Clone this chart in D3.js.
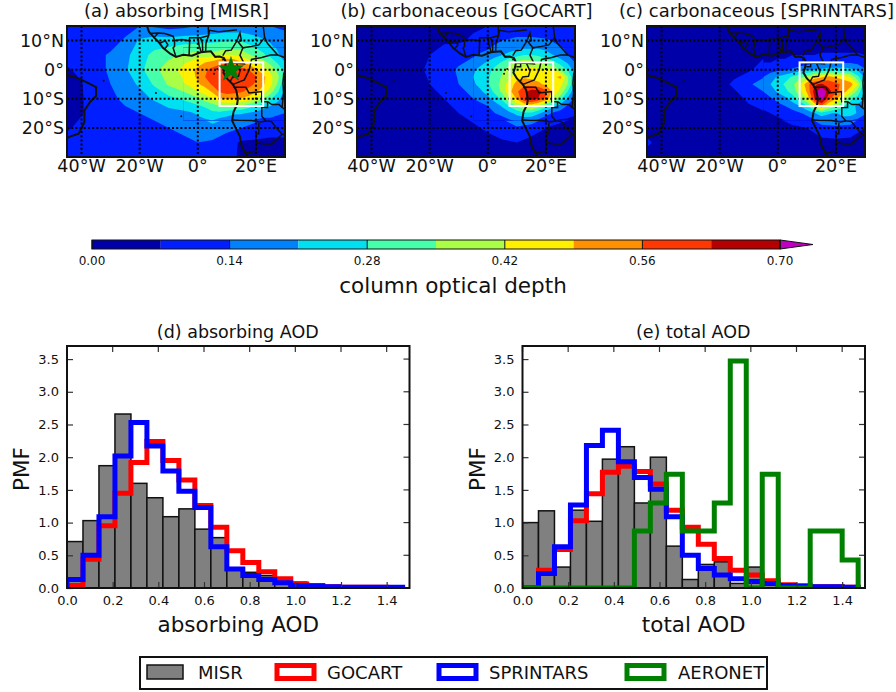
<!DOCTYPE html>
<html>
<head>
<meta charset="utf-8">
<script src="https://cdn.jsdelivr.net/npm/d3@7"></script>
<style>
body { margin: 0; background: #fff; }
text { font-family: "DejaVu Sans", sans-serif; fill: #111; }
</style>
</head>
<body>
<script>
// contour levels and colours
var levels = [0, 0.07, 0.14, 0.21, 0.28, 0.35, 0.42, 0.49, 0.56, 0.63, 0.70];
var levelColors = ["#0000a8", "#001eff", "#0082ff", "#00e0f0", "#46ffaa", "#aaff46", "#fff000", "#ff9100", "#ff3700", "#b40000", "#c000c0"];
var cbarTicks = [0, 0.14, 0.28, 0.42, 0.56, 0.70];

// AOD on a 5 degree grid, lon -45..30, lat 15..-30
var gridLon = d3.range(-45, 31, 5);
var gridLat = d3.range(15, -31, -5);

var aodMisr = [
  [.10,.11,.09,.065,.11,.14,.13,.11,.12,.14,.15,.16,.16,.15,.14,.13],
  [.11,.12,.11,.11,.15,.22,.24,.24,.25,.25,.26,.27,.27,.24,.20,.16],
  [.10,.11,.12,.15,.19,.25,.30,.33,.36,.39,.40,.43,.40,.33,.26,.18],
  [.06,.09,.12,.15,.20,.26,.33,.39,.44,.51,.58,.60,.58,.50,.40,.25],
  [.06,.065,.13,.14,.18,.22,.29,.36,.41,.48,.57,.61,.59,.55,.44,.21],
  [.06,.065,.10,.13,.15,.18,.22,.26,.29,.34,.42,.50,.48,.41,.29,.17],
  [.05,.065,.10,.12,.13,.14,.15,.18,.19,.22,.26,.24,.22,.19,.17,.14],
  [.06,.09,.10,.11,.12,.13,.13,.14,.15,.17,.19,.16,.14,.11,.09,.09],
  [.10,.10,.10,.10,.10,.11,.11,.12,.13,.14,.13,.10,.06,.06,.06,.06],
  [.10,.10,.10,.10,.10,.10,.10,.10,.10,.13,.10,.09,.06,.06,.06,.06]
];
var aodGocart = [
  [.05,.05,.05,.05,.05,.05,.05,.05,.06,.07,.08,.08,.08,.08,.08,.07],
  [.05,.05,.05,.05,.05,.06,.06,.06,.08,.10,.14,.16,.16,.15,.12,.08],
  [.05,.05,.05,.05,.05,.07,.10,.11,.13,.17,.21,.26,.28,.24,.17,.10],
  [.04,.04,.05,.05,.055,.08,.11,.15,.20,.26,.34,.41,.44,.43,.34,.18],
  [.04,.04,.05,.05,.05,.07,.10,.14,.20,.27,.38,.51,.53,.48,.44,.20],
  [.04,.04,.04,.05,.05,.06,.07,.10,.14,.19,.30,.50,.67,.54,.30,.12],
  [.04,.04,.04,.04,.05,.05,.06,.07,.09,.12,.16,.23,.26,.17,.11,.08],
  [.04,.04,.04,.04,.04,.04,.05,.05,.06,.08,.11,.13,.10,.07,.05,.05],
  [.04,.04,.04,.04,.04,.04,.04,.04,.04,.05,.06,.07,.05,.04,.04,.04],
  [.04,.04,.04,.04,.04,.04,.04,.04,.04,.04,.04,.04,.04,.04,.04,.04]
];
var aodSprintars = [
  [.04,.04,.04,.04,.04,.04,.04,.04,.04,.04,.04,.04,.04,.04,.04,.04],
  [.04,.04,.04,.04,.04,.04,.04,.04,.04,.04,.05,.05,.05,.05,.05,.04],
  [.04,.04,.04,.04,.04,.04,.04,.04,.06,.06,.07,.07,.08,.08,.08,.07],
  [.04,.04,.04,.04,.04,.04,.05,.06,.10,.12,.15,.20,.22,.24,.23,.15],
  [.04,.04,.04,.04,.04,.05,.08,.13,.17,.25,.33,.53,.64,.58,.52,.22],
  [.04,.04,.04,.04,.04,.04,.05,.08,.11,.16,.24,.42,.75,.50,.30,.20],
  [.04,.04,.04,.04,.04,.04,.04,.05,.06,.08,.11,.16,.25,.20,.25,.15],
  [.05,.04,.04,.04,.04,.04,.04,.04,.04,.05,.06,.07,.11,.13,.11,.07],
  [.08,.05,.04,.04,.04,.04,.04,.04,.04,.04,.04,.05,.05,.05,.05,.05],
  [.05,.04,.04,.04,.04,.04,.04,.04,.04,.04,.04,.04,.04,.04,.04,.04]
];

// finer 2.5 degree readings over the plume, lon -5..30, lat 7.5..-17.5
var fineLon = d3.range(-5, 31, 2.5);
var fineLat = d3.range(7.5, -18, -2.5);

var fineMisr = [
  [.30,.30,.31,.30,.30,.31,.33,.33,.33,.30,.28,.26,.24,.20,.17],
  [.36,.38,.39,.39,.40,.42,.43,.42,.40,.36,.33,.29,.26,.22,.18],
  [.41,.43,.46,.49,.51,.54,.55,.54,.50,.46,.42,.38,.33,.27,.21],
  [.44,.47,.51,.55,.58,.60,.60,.60,.58,.56,.50,.45,.40,.33,.25],
  [.44,.47,.50,.56,.59,.61,.61,.61,.60,.59,.57,.51,.44,.37,.25],
  [.41,.44,.48,.52,.57,.60,.61,.60,.59,.58,.55,.50,.44,.34,.21],
  [.35,.38,.42,.45,.50,.57,.59,.58,.57,.54,.50,.46,.38,.29,.19],
  [.29,.31,.34,.38,.42,.48,.50,.50,.48,.46,.41,.35,.29,.23,.17],
  [.24,.25,.27,.29,.32,.35,.35,.35,.34,.31,.27,.24,.21,.18,.15],
  [.19,.20,.22,.24,.26,.26,.24,.22,.22,.20,.19,.17,.17,.15,.14],
  [.16,.17,.19,.20,.21,.18,.17,.16,.15,.14,.13,.12,.12,.11,.11]
];
var fineGocart = [
  [.11,.12,.13,.15,.16,.17,.19,.20,.20,.20,.19,.17,.15,.12,.09],
  [.13,.15,.17,.19,.21,.24,.26,.28,.28,.27,.24,.21,.17,.14,.10],
  [.16,.19,.22,.25,.29,.33,.37,.39,.38,.36,.32,.30,.25,.20,.14],
  [.20,.23,.26,.30,.34,.38,.41,.44,.44,.43,.43,.42,.34,.27,.18],
  [.21,.24,.27,.31,.36,.41,.47,.48,.47,.47,.47,.47,.51,.36,.20],
  [.20,.23,.27,.32,.38,.46,.51,.54,.53,.50,.48,.46,.44,.35,.20],
  [.17,.20,.24,.30,.37,.47,.55,.61,.66,.66,.58,.47,.40,.28,.15],
  [.14,.16,.19,.24,.30,.41,.50,.62,.67,.62,.54,.40,.30,.20,.12],
  [.11,.12,.14,.17,.22,.29,.36,.42,.44,.38,.30,.23,.18,.13,.09],
  [.09,.10,.12,.14,.16,.19,.23,.26,.26,.22,.17,.13,.11,.09,.08],
  [.07,.07,.08,.10,.11,.13,.15,.16,.15,.12,.09,.07,.06,.06,.05]
];
var fineSprintars = [
  [.05,.05,.05,.05,.05,.05,.05,.05,.05,.05,.05,.05,.05,.05,.05],
  [.06,.06,.06,.06,.07,.07,.07,.07,.08,.08,.08,.08,.08,.08,.07],
  [.07,.07,.08,.08,.09,.10,.11,.12,.13,.13,.13,.13,.13,.12,.09],
  [.10,.11,.12,.13,.15,.17,.20,.21,.22,.24,.24,.24,.23,.20,.15],
  [.14,.18,.22,.25,.29,.33,.37,.45,.48,.52,.48,.46,.42,.30,.20],
  [.17,.21,.25,.29,.33,.41,.53,.62,.64,.60,.58,.54,.52,.42,.22],
  [.14,.18,.22,.26,.31,.39,.50,.65,.78,.66,.58,.52,.44,.32,.20],
  [.11,.13,.16,.19,.24,.32,.42,.62,.75,.58,.50,.40,.30,.25,.20],
  [.08,.10,.12,.14,.17,.21,.27,.40,.55,.42,.36,.29,.23,.20,.18],
  [.06,.07,.08,.09,.11,.13,.16,.20,.25,.22,.20,.25,.25,.20,.15],
  [.05,.05,.06,.07,.08,.09,.10,.13,.15,.15,.16,.16,.14,.12,.09]
];

// coast and border lines as [lon, lat]
var coastLines = [
  [[-17.5,15],[-16.8,13],[-15,11],[-13.5,9.5],[-12,7.5],[-9.5,5.5],[-7.5,4.4],[-5,5.1],[-2,4.8],[1,6],[4.5,6.3],[6,4.4],[7.5,4.5],[9,4],[9.7,2.5],[9.3,0.5],[8.8,-1],[10,-3],[12,-5],[13.2,-7],[13.8,-10],[13.5,-12],[12.3,-14.5],[11.8,-17.5],[13,-20],[14.5,-23],[15,-26],[16.4,-28.6],[17,-30]],
  [[-46,-1.5],[-41,-3],[-37,-5],[-35,-6],[-35,-9],[-37,-11],[-39,-14],[-39,-18],[-41,-22],[-44,-23],[-46,-24]]
];
var borderLines = [
  [[-16.7,12.4],[-13.7,12.6],[-11.4,12.4],[-8.5,11.5],[-8,10],[-5.5,10.4],[-3,9.9],[-2.8,11],[0,11],[1,11],[3.7,11.7],[3.6,15]],
  [[-15,11],[-13.7,12.6]],
  [[-13.2,9],[-11.2,10],[-10.3,8.5],[-11.5,7]],
  [[-7.5,4.4],[-8.5,7.5],[-8,8],[-8,10]],
  [[-3,5],[-2.8,9.9]],
  [[1.2,6.1],[0.5,8],[0,11]],
  [[1.7,6.2],[1.6,9],[0.9,11]],
  [[2.7,6.4],[2.8,9],[3.7,11.7],[4,13.5],[7,13],[10,13.3],[13.5,13.7]],
  [[8.6,4.8],[9.6,6.5],[11.5,6.7],[13.5,10],[14.5,12.7],[15,10],[13.9,9.5],[15.5,7.5],[18.5,8],[21,8.5],[23,11],[22.5,15]],
  [[15.5,7.5],[14.5,5],[16,2],[13.3,2.2],[9.8,2.3]],
  [[9.8,1],[11.3,1],[11.3,2.2]],
  [[11.2,-3.9],[12,-2.5],[14,-2.3],[14.5,-0.5],[13.3,2.2]],
  [[12.2,-5],[13,-4.7],[16,-3.5],[17.7,0],[18.5,3.5],[22,4.2],[25,5],[27.5,5],[31,3.8]],
  [[12.2,-6],[16.5,-6],[17.6,-8],[22,-7.5],[22,-11],[24,-11],[25.5,-12],[28,-12],[29,-13],[30.5,-14]],
  [[24,-11],[24,-13],[22,-13],[22,-16],[23.4,-17.6],[25.3,-17.8],[27,-20],[29,-22.2],[31,-22.4]],
  [[11.8,-17.3],[14,-17.4],[18.5,-17.5],[21.5,-18],[23.4,-17.6]],
  [[21,-18.3],[21,-22],[20,-22],[20,-28],[16.5,-28.6]],
  [[20,-25],[23,-25.5],[25.5,-25.5],[29,-22.2]],
  [[23,11],[24,9],[27.5,5]],
  [[29.6,-1],[29.3,-4.5],[29.5,-8],[29,-13]]
];
var islands = [[-5.7,-16],[-14.4,-8],[-29,-20.5],[-32.4,-3.8],[6.7,0.2],[8.7,3.5],[5.6,-1.4]];
var meridians = [-40, -20, 0, 20];
var parallels = [10, 0, -10, -20];
var lonLabels = ["40°W", "20°W", "0°", "20°E"];
var latLabels = ["10°N", "0°", "10°S", "20°S"];
var boxLon = [7.5, 22.5];
var boxLat = [2.5, -12.5];
var starLon = 11.4, starLat = 0;

// histograms, bin width 0.07
var binEdges = d3.range(0, 22).map(d => d * 0.07);
var absMisr = [.71,1.03,1.87,2.66,1.60,1.38,1.09,1.21,.90,.77,.31,.24,.19,.10,.09,.03,.02,.01,.01,0,0];
var absGocart = [.04,.44,.95,1.45,1.92,2.24,1.95,1.65,1.26,.93,.57,.39,.25,.14,.06,.04,.02,.01,.01,.01,0];
var absSprintars = [.13,.50,1.09,2.02,2.53,2.17,1.79,1.48,1.23,.63,.29,.19,.13,.08,.04,.03,.02,.01,.01,.01,.01];
var totMisr = [1.0,1.18,.32,1.19,1.02,1.97,2.16,1.30,2.0,.64,.13,.36,.40,.07,.32,.05,.03,.02,.01,.03,.01];
var totGocart = [0,.27,.59,1.03,1.44,1.77,1.86,1.78,1.59,1.19,.93,.67,.45,.27,.20,.11,.05,.03,.02,.02,.01];
var totSprintars = [0,.22,.63,1.27,2.18,2.41,1.93,1.69,1.51,1.09,.50,.30,.20,.14,.10,.07,.04,.03,.02,.02,.01];
var totAeronet = [0,0,0,0,0,0,0,.87,1.30,1.74,.87,.87,1.30,3.47,0,1.74,0,0,.87,.87,.43];
var xTicks = [0, .2, .4, .6, .8, 1.0, 1.2, 1.4];
var yTicks = [0, .5, 1, 1.5, 2, 2.5, 3, 3.5];

var legendNames = ["MISR", "GOCART", "SPRINTARS", "AERONET"];
var red = "#ff0000", blue = "#0000ff", green = "#008000", gray = "#808080", ink = "#111";

var svg = d3.select("body").append("svg")
  .attr("width", 896).attr("height", 692).style("display", "block");

var clipCount = 0;
function addClip(x, y, w, h) {
  var id = "clip" + (clipCount++);
  svg.append("clipPath").attr("id", id).append("rect")
    .attr("x", x).attr("y", y).attr("width", w).attr("height", h);
  return "url(#" + id + ")";
}

// filled bands for one grid; d3.contours has cell centres at i+0.5
function drawBands(parent, grid, lons, lats, xs, ys) {
  var step = lons[1] - lons[0];
  var toScreen = d3.geoTransform({
    point: function(px, py) {
      this.stream.point(xs(lons[0] + (px - 0.5) * step), ys(lats[0] - (py - 0.5) * step));
    }
  });
  var contours = d3.contours().size([lons.length, lats.length]).smooth(true)
    .thresholds(levels)(grid.flat());
  parent.selectAll("path").data(contours).join("path")
    .attr("d", d3.geoPath(toScreen))
    .attr("fill", (d, i) => levelColors[i]);
}

function drawMap(left, title, grid, fine, withStar) {
  var w = 218, top = 26, h = 131;
  var xs = d3.scaleLinear().domain([-45, 30]).range([left, left + w]);
  var ys = d3.scaleLinear().domain([15, -30]).range([top, top + h]);
  var g = svg.append("g");
  var inner = g.append("g").attr("clip-path", addClip(left, top, w, h));

  drawBands(inner.append("g"), grid, gridLon, gridLat, xs, ys);
  var fx = xs(fineLon[0]), fy = ys(fineLat[0]);
  var fineLayer = inner.append("g")
    .attr("clip-path", addClip(fx, fy, left + w - fx, ys(fineLat[fineLat.length - 1]) - fy));
  drawBands(fineLayer, fine, fineLon, fineLat, xs, ys);

  var line = d3.line().x(d => xs(d[0])).y(d => ys(d[1]));
  inner.selectAll("path.border").data(borderLines).join("path")
    .attr("class", "border").attr("d", line).attr("fill", "none")
    .attr("stroke", ink).attr("stroke-width", 1.5);
  inner.selectAll("path.coast").data(coastLines).join("path")
    .attr("class", "coast").attr("d", line).attr("fill", "none")
    .attr("stroke", ink).attr("stroke-width", 2);
  inner.selectAll("circle").data(islands).join("circle")
    .attr("cx", d => xs(d[0])).attr("cy", d => ys(d[1])).attr("r", 1).attr("fill", ink);

  // dotted graticule
  inner.selectAll("line.mer").data(meridians).join("line").attr("class", "mer")
    .attr("x1", d => xs(d)).attr("x2", d => xs(d)).attr("y1", top).attr("y2", top + h)
    .attr("stroke", "#000").attr("stroke-width", 2).attr("stroke-dasharray", "2,2.2");
  inner.selectAll("line.par").data(parallels).join("line").attr("class", "par")
    .attr("y1", d => ys(d)).attr("y2", d => ys(d)).attr("x1", left).attr("x2", left + w)
    .attr("stroke", "#000").attr("stroke-width", 2).attr("stroke-dasharray", "2,2.2");

  inner.append("rect")
    .attr("x", xs(boxLon[0])).attr("y", ys(boxLat[0]))
    .attr("width", xs(boxLon[1]) - xs(boxLon[0])).attr("height", ys(boxLat[1]) - ys(boxLat[0]))
    .attr("fill", "none").attr("stroke", "#fff").attr("stroke-width", 2);

  if (withStar) {
    inner.append("path")
      .attr("transform", "translate(" + xs(starLon) + "," + ys(starLat) + ")")
      .attr("d", d3.symbol().type(d3.symbolStar).size(190)())
      .attr("fill", green).attr("stroke", "#063").attr("stroke-width", 0.5);
  }

  g.append("rect").attr("x", left).attr("y", top).attr("width", w).attr("height", h)
    .attr("fill", "none").attr("stroke", ink).attr("stroke-width", 2);

  g.selectAll("text.lon").data(meridians).join("text").attr("class", "lon")
    .attr("x", d => xs(d)).attr("y", 172).attr("text-anchor", "middle")
    .attr("font-size", 17.5).text((d, i) => lonLabels[i]);
  g.selectAll("text.lat").data(parallels).join("text").attr("class", "lat")
    .attr("x", left - 3).attr("y", d => ys(d) + 6.5).attr("text-anchor", "end")
    .attr("font-size", 17.5).text((d, i) => latLabels[i]);
  g.append("text").attr("x", left + w / 2 + 0.5).attr("y", 17).attr("text-anchor", "middle")
    .attr("font-size", 18).text(title);
}

drawMap(67, "(a) absorbing [MISR]", aodMisr, fineMisr, true);
drawMap(357, "(b) carbonaceous [GOCART]", aodGocart, fineGocart, false);
drawMap(647, "(c) carbonaceous [SPRINTARS]", aodSprintars, fineSprintars, false);

// colour bar
var cx = d3.scaleLinear().domain([0, 0.7]).range([92, 780]);
var cbar = svg.append("g");
cbar.selectAll("rect").data(levels.slice(0, -1)).join("rect")
  .attr("x", d => cx(d)).attr("y", 240)
  .attr("width", (d, i) => cx(levels[i + 1]) - cx(d)).attr("height", 9)
  .attr("fill", (d, i) => levelColors[i]);
var tipX = cx(0.7) + 33;
cbar.append("path")
  .attr("d", d3.line()([[cx(0.7), 240], [tipX, 244.5], [cx(0.7), 249]]) + "Z")
  .attr("fill", levelColors[10]).attr("stroke", ink).attr("stroke-width", 1);
cbar.append("rect").attr("x", cx(0)).attr("y", 240).attr("width", cx(0.7) - cx(0)).attr("height", 9)
  .attr("fill", "none").attr("stroke", ink).attr("stroke-width", 1);
cbar.selectAll("line").data(cbarTicks).join("line")
  .attr("x1", d => cx(d)).attr("x2", d => cx(d)).attr("y1", 240).attr("y2", 249)
  .attr("stroke", ink).attr("stroke-width", 1);
cbar.selectAll("text.tick").data(cbarTicks).join("text").attr("class", "tick")
  .attr("x", d => cx(d)).attr("y", 265).attr("text-anchor", "middle")
  .attr("font-size", 12).text(d => d.toFixed(2));
cbar.append("text").attr("x", 453).attr("y", 293).attr("text-anchor", "middle")
  .attr("font-size", 21.5).text("column optical depth");

function stepPoints(vals) {
  var pts = [[binEdges[0], 0]];
  vals.forEach((v, i) => { pts.push([binEdges[i], v]); pts.push([binEdges[i + 1], v]); });
  pts.push([binEdges[vals.length], 0]);
  return pts;
}

function drawHist(left, title, xlabel, bars, steps) {
  var w = 342.5, top = 346, h = 242;
  var xs = d3.scaleLinear().domain([0, 1.5]).range([left, left + w]);
  var ys = d3.scaleLinear().domain([0, 3.7]).range([top + h, top]);
  var g = svg.append("g");
  var inner = g.append("g").attr("clip-path", addClip(left, top, w, h));

  inner.selectAll("rect").data(bars).join("rect")
    .attr("x", (d, i) => xs(binEdges[i])).attr("y", d => ys(d))
    .attr("width", (d, i) => xs(binEdges[i + 1]) - xs(binEdges[i]))
    .attr("height", d => ys(0) - ys(d))
    .attr("fill", gray).attr("stroke", ink).attr("stroke-width", 1.5);

  var line = d3.line().x(d => xs(d[0])).y(d => ys(d[1]));
  steps.forEach(function(s) {
    inner.append("path").attr("d", line(stepPoints(s.values))).attr("fill", "none")
      .attr("stroke", s.color).attr("stroke-width", 5).attr("stroke-linejoin", "miter");
  });

  var xAxis = d3.axisBottom(xs).tickValues(xTicks).tickFormat(d3.format(".1f")).tickSize(-6).tickPadding(7.5);
  var yAxis = d3.axisLeft(ys).tickValues(yTicks).tickFormat(d3.format(".1f")).tickSize(-6).tickPadding(8);
  var ax = g.append("g").attr("transform", "translate(0," + (top + h) + ")").call(xAxis);
  var ay = g.append("g").attr("transform", "translate(" + left + ",0)").call(yAxis);
  [ax, ay].forEach(function(a) {
    a.select(".domain").remove();
    a.selectAll("text").attr("font-size", 13).attr("font-family", "DejaVu Sans").attr("fill", ink);
    a.selectAll("line").attr("stroke", "#333").attr("stroke-width", 1.2);
  });
  // top and right ticks
  g.selectAll("line.tt").data(xTicks).join("line").attr("class", "tt")
    .attr("x1", d => xs(d)).attr("x2", d => xs(d)).attr("y1", top).attr("y2", top + 6)
    .attr("stroke", "#333").attr("stroke-width", 1.2);
  g.selectAll("line.rt").data(yTicks).join("line").attr("class", "rt")
    .attr("y1", d => ys(d)).attr("y2", d => ys(d)).attr("x1", left + w - 6).attr("x2", left + w)
    .attr("stroke", "#333").attr("stroke-width", 1.2);

  g.append("rect").attr("x", left).attr("y", top).attr("width", w).attr("height", h)
    .attr("fill", "none").attr("stroke", ink).attr("stroke-width", 2);

  g.append("text").attr("x", left + w / 2 - 0.5).attr("y", 338).attr("text-anchor", "middle")
    .attr("font-size", 17.5).text(title);
  g.append("text").attr("x", left + w / 2).attr("y", 632).attr("text-anchor", "middle")
    .attr("font-size", 21.5).text(xlabel);
  g.append("text").attr("transform", "translate(" + (left - 38) + "," + (top + h / 2 + 2) + ") rotate(-90)")
    .attr("text-anchor", "middle").attr("font-size", 21.5).text("PMF");
}

drawHist(67, "(d) absorbing AOD", "absorbing AOD", absMisr,
  [{values: absGocart, color: red}, {values: absSprintars, color: blue}]);
drawHist(522.5, "(e) total AOD", "total AOD", totMisr,
  [{values: totGocart, color: red}, {values: totSprintars, color: blue}, {values: totAeronet, color: green}]);

// legend
var legend = svg.append("g");
legend.append("rect").attr("x", 140).attr("y", 657).attr("width", 627).attr("height", 32)
  .attr("fill", "#fff").attr("stroke", ink).attr("stroke-width", 2);
var legendColors = [gray, red, blue, green];
var legendX = [147, 277, 439, 627];
var legendTextX = [198, 327, 489, 678];
legendNames.forEach(function(name, i) {
  var isBar = i === 0;
  legend.append("rect")
    .attr("x", legendX[i]).attr("y", isBar ? 665 : 665.5)
    .attr("width", isBar ? 36 : 37).attr("height", isBar ? 14 : 13)
    .attr("fill", isBar ? gray : "none")
    .attr("stroke", isBar ? ink : legendColors[i])
    .attr("stroke-width", isBar ? 1.5 : 5);
  legend.append("text").attr("x", legendTextX[i]).attr("y", 679)
    .attr("font-size", 18).text(name);
});
</script>
</body>
</html>
